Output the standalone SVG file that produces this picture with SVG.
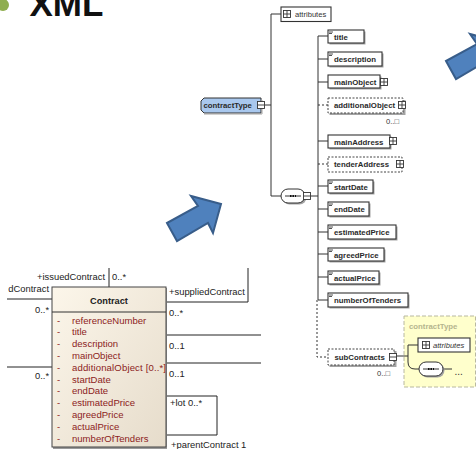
<svg xmlns="http://www.w3.org/2000/svg" xmlns:xlink="http://www.w3.org/1999/xlink" width="476" height="449" viewBox="0 0 476 449">
<style>
text{font-family:"Liberation Sans",Arial,sans-serif}
.n{fill:#fff;stroke:#333;stroke-width:1.1}
.o{fill:#fff;stroke:#444;stroke-width:1;stroke-dasharray:2 1.5}
.s{fill:#a3a3a3;stroke:none}
.t{font-size:7.8px;font-weight:bold;fill:#2a2a2a}
.m{font-size:7.6px;fill:#333}
.l{stroke:#333;stroke-width:1;fill:none}
.d{stroke:#333;stroke-width:1;fill:none;stroke-dasharray:2 2}
.u{stroke:#222;stroke-width:1;fill:none}
.c{font-size:9.4px;fill:#222}
.a{font-size:9.55px;fill:#8c1c1c}
.ar{fill:#4f81bd;stroke:#385d8a;stroke-width:2}
.y{fill:#ffffcc;stroke:#b8b8a0;stroke-width:1;stroke-dasharray:4 2}
</style>
<defs>
<g id="plus"><rect x="-3.5" y="-3.5" width="7" height="7" fill="#fff" stroke="#333" stroke-width=".9"/><path d="M-3.5 0H3.5M0-3.500V3.500" stroke="#333" stroke-width=".9"/></g>
<g id="minus"><rect x="-3.5" y="-3.5" width="7" height="7" fill="#fff" stroke="#333" stroke-width=".9"/><path d="M-3.5 0H3.500" stroke="#333" stroke-width=".9"/></g>
<path id="doc" d="M1 2H5M1 3.500H4" stroke="#555" stroke-width="1" fill="none"/>
<path id="arrow" d="M167 223L177 241L208 223L213 233L221 204L191 196L198 206Z"/>
<g id="seq"><rect x="1.500" y="1.500" width="24" height="14" rx="7" fill="#a3a3a3"/><rect width="24" height="14" rx="7" fill="#fff" stroke="#333" stroke-width="1"/><path d="M4 7H20" stroke="#333" stroke-width="1"/><path d="M9 7H15" stroke="#111" stroke-width="2" stroke-dasharray="1.5 1"/></g>
<linearGradient id="cg" x1="0" y1="0" x2="1" y2="1"><stop offset="0" stop-color="#fcf6ea"/><stop offset="1" stop-color="#e6dccb"/></linearGradient>
</defs>

<g id="heading">
<circle cx="3" cy="5" r="6" fill="#8fae4f"/>
<text x="29.500" y="16" font-size="35" font-weight="bold" fill="#111">XML</text>
</g>

<g id="arrows">
<use href="#arrow" class="ar"/>
<use href="#arrow" class="ar" transform="translate(279 -162)"/>
</g>

<g id="connectors">
<path class="l" d="M271 14H281M271 14V196M265 105H271M271 196H281M311 196H318"/>
<path class="l" d="M318 36V300M318 36H328M318 59H328M318 82H328M318 141H328M318 186H328M318 209H328M318 232H328M318 254H328M318 277H328M318 300H328"/>
<path class="d" d="M318 105H328M318 164H328M317 300V357H328"/>
<path class="u" d="M109 268V287M7 299H52M7 367H52M166 302H248V268M166 335H261M166 363H261M166 396H217V435H166"/>
</g>

<g id="contractType">
<path d="M204 98H261V113H204L201 110V101Z" fill="#a9c8ee" stroke="#333" stroke-width="1"/>
<path d="M262 100V114H204" stroke="#a3a3a3" fill="none"/>
<text x="203.500" y="108" class="t">contractType</text>
<use href="#minus" x="261" y="105"/>
</g>
<g id="attributes">
<rect x="281" y="7" width="50" height="14.500" class="n"/>
<use href="#plus" x="287" y="14"/>
<text x="295" y="17" class="m">attributes</text>
</g>
<g id="sequence">
<use href="#seq" x="281" y="189"/>
<use href="#minus" x="307" y="196"/>
</g>

<g id="title"><rect x="329.500" y="31.500" width="36" height="13" class="s"/><rect x="328" y="30" width="36" height="13" class="n"/><use href="#doc" x="328" y="30"/><text x="334" y="39.500" class="t">title</text></g>
<g id="description"><rect x="329.500" y="53.500" width="54" height="14" class="s"/><rect x="328" y="52" width="54" height="14" class="n"/><use href="#doc" x="328" y="52"/><text x="334" y="62" class="t">description</text></g>
<g id="mainObject"><rect x="329.500" y="76.500" width="52" height="13" class="s"/><rect x="328" y="75" width="52" height="13" class="n"/><text x="334" y="85" class="t">mainObject</text><use href="#plus" x="384" y="82"/></g>
<g id="additionalObject"><rect x="329.500" y="100" width="76" height="15" class="s"/><rect x="328" y="98" width="75" height="15" class="o"/><text x="334" y="108" class="t">additionalObject</text><use href="#plus" x="402" y="105"/><text x="386" y="124" class="m">0..□</text></g>
<g id="mainAddress"><rect x="329.500" y="136.500" width="62" height="13" class="s"/><rect x="328" y="135" width="62" height="13" class="n"/><text x="334" y="144.500" class="t">mainAddress</text><use href="#plus" x="393" y="141"/></g>
<g id="tenderAddress"><rect x="328" y="157" width="74" height="15" class="o"/><text x="334" y="167" class="t">tenderAddress</text><use href="#plus" x="400" y="164"/></g>
<g id="startDate"><rect x="329.500" y="181.500" width="45" height="13" class="s"/><rect x="328" y="180" width="45" height="13" class="n"/><use href="#doc" x="328" y="180"/><text x="334" y="190" class="t">startDate</text></g>
<g id="endDate"><rect x="329.500" y="203.500" width="41" height="14" class="s"/><rect x="328" y="202" width="41" height="14" class="n"/><use href="#doc" x="328" y="202"/><text x="334" y="212" class="t">endDate</text></g>
<g id="estimatedPrice"><rect x="329.500" y="226.500" width="68" height="14" class="s"/><rect x="328" y="225" width="68" height="14" class="n"/><use href="#doc" x="328" y="225"/><text x="334" y="235" class="t">estimatedPrice</text></g>
<g id="agreedPrice"><rect x="329.500" y="249.500" width="56" height="13" class="s"/><rect x="328" y="248" width="56" height="13" class="n"/><use href="#doc" x="328" y="248"/><text x="334" y="258" class="t">agreedPrice</text></g>
<g id="actualPrice"><rect x="329.500" y="272.500" width="51" height="13" class="s"/><rect x="328" y="271" width="51" height="13" class="n"/><use href="#doc" x="328" y="271"/><text x="334" y="281" class="t">actualPrice</text></g>
<g id="numberOfTenders"><rect x="329.500" y="294.500" width="80" height="14" class="s"/><rect x="328" y="293" width="80" height="14" class="n"/><use href="#doc" x="328" y="293"/><text x="334" y="303" class="t">numberOfTenders</text></g>

<g id="contractTypeRef">
<rect x="404" y="316" width="71.500" height="71" class="y"/>
<text x="409" y="328.500" font-size="7.8" font-weight="bold" fill="#b5b58e">contractType</text>
<path class="l" d="M397 356H408M408 345V362Q408 369 415 369H419M408 345H418M443 369H452"/>
<rect x="418" y="338" width="52" height="14" class="n"/>
<use href="#plus" x="426" y="345"/>
<text x="433" y="348" font-size="7.6" font-style="italic" fill="#333">attributes</text>
<use href="#seq" x="419" y="362"/>
<text x="454.500" y="375" font-size="10" fill="#333">...</text>
</g>
<g id="subContracts">
<rect x="329.500" y="351" width="67" height="16" class="s"/>
<rect x="328" y="349" width="66" height="16" class="o"/>
<text x="334.500" y="359.500" class="t">subContracts</text>
<use href="#minus" x="393" y="357"/>
<text x="377" y="376" class="m">0..□</text>
</g>

<g id="umlLabels">
<text x="105" y="280" text-anchor="end" class="c">+issuedContract</text>
<text x="112" y="280" class="c">0..*</text>
<text x="49" y="292" text-anchor="end" class="c">dContract</text>
<text x="35" y="313" class="c">0..*</text>
<text x="35" y="379" class="c">0..*</text>
<text x="169" y="295" class="c">+suppliedContract</text>
<text x="169" y="316" class="c">0..*</text>
<text x="169" y="349" class="c">0..1</text>
<text x="169" y="377" class="c">0..1</text>
<text x="170" y="406" class="c">+lot 0..*</text>
<text x="171" y="448" class="c">+parentContract 1</text>
</g>

<g id="Contract">
<rect x="53" y="288" width="114" height="161" fill="#9a9a9a"/>
<rect x="52" y="287" width="114" height="160" fill="url(#cg)" stroke="#444" stroke-width="1"/>
<path d="M52 312H166" stroke="#333" stroke-width="1"/>
<text x="109" y="303.500" text-anchor="middle" font-size="9.200" font-weight="bold" fill="#222">Contract</text>
<g class="a">
<text x="57" y="323.500">-</text><text x="72" y="323.500">referenceNumber</text>
<text x="57" y="335.300">-</text><text x="72" y="335.300">title</text>
<text x="57" y="347.100">-</text><text x="72" y="347.100">description</text>
<text x="57" y="358.900">-</text><text x="72" y="358.900">mainObject</text>
<text x="57" y="370.700">-</text><text x="72" y="370.700" textLength="94">additionalObject [0..*]</text>
<text x="57" y="382.500">-</text><text x="72" y="382.500">startDate</text>
<text x="57" y="394.300">-</text><text x="72" y="394.300">endDate</text>
<text x="57" y="406.100">-</text><text x="72" y="406.100">estimatedPrice</text>
<text x="57" y="417.900">-</text><text x="72" y="417.900">agreedPrice</text>
<text x="57" y="429.700">-</text><text x="72" y="429.700">actualPrice</text>
<text x="57" y="441.500">-</text><text x="72" y="441.500">numberOfTenders</text>
</g>
</g>
</svg>
